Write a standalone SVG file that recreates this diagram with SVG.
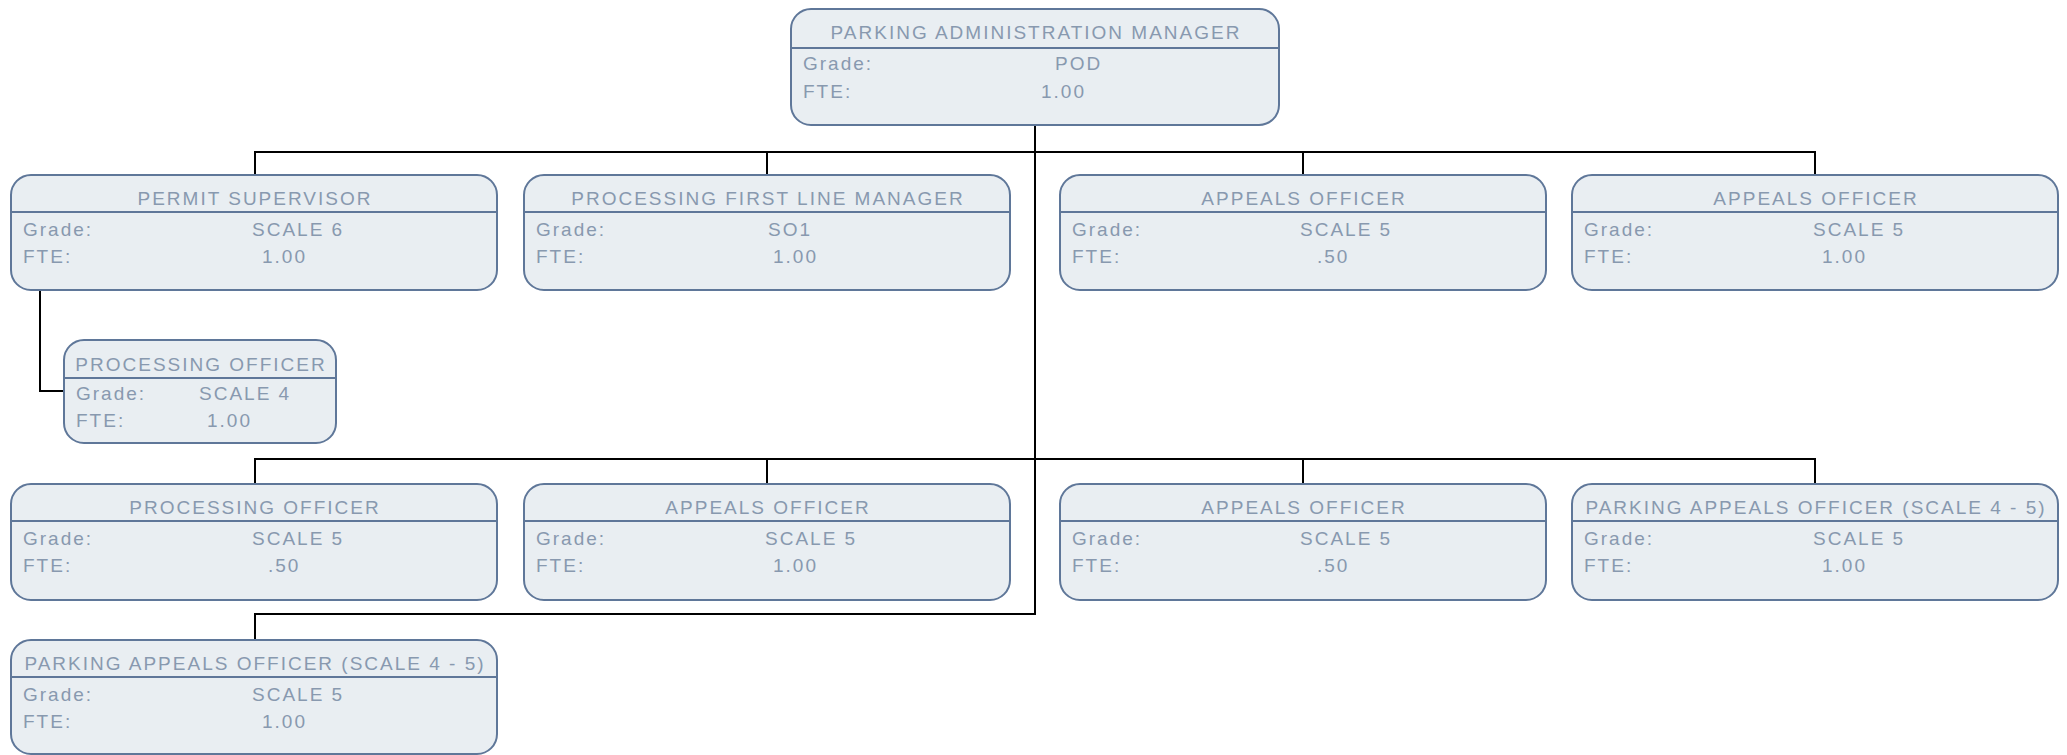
<svg xmlns="http://www.w3.org/2000/svg" width="2067" height="755" viewBox="0 0 2067 755">
<style>
.box{fill:#e9eef2;stroke:#5f7799;stroke-width:2}
.sep{stroke:#5f7799;stroke-width:2}
text{font-family:"Liberation Sans",Arial,sans-serif;font-size:19px;fill:#8899af;letter-spacing:2px}
.t{text-anchor:middle}
.c line,.c path{stroke:#000;stroke-width:2;fill:none}
</style>
<rect width="2067" height="755" fill="#fff"/>
<g class="c" id="connectors">
<line x1="1035" y1="125" x2="1035" y2="615"/>
<line x1="254" y1="152" x2="1816" y2="152"/>
<line x1="255" y1="152" x2="255" y2="175"/>
<line x1="767" y1="152" x2="767" y2="175"/>
<line x1="1303" y1="152" x2="1303" y2="175"/>
<line x1="1815" y1="152" x2="1815" y2="175"/>
<line x1="254" y1="459" x2="1816" y2="459"/>
<line x1="255" y1="459" x2="255" y2="484"/>
<line x1="767" y1="459" x2="767" y2="484"/>
<line x1="1303" y1="459" x2="1303" y2="484"/>
<line x1="1815" y1="459" x2="1815" y2="484"/>
<path d="M255 640 V614 H1036"/>
<path d="M40 290 V391 H64"/>
</g>
<g id="n0"><rect class="box" x="791" y="9" width="488" height="116" rx="20"/><line class="sep" x1="791" y1="48" x2="1279" y2="48"/><text class="t" x="1036" y="39">PARKING ADMINISTRATION MANAGER</text><text x="803" y="70">Grade:</text><text x="803" y="98">FTE:</text><text x="1055" y="70">POD</text><text x="1041" y="98">1.00</text></g>
<g id="n1"><rect class="box" x="11" y="175" width="486" height="115" rx="20"/><line class="sep" x1="11" y1="212" x2="497" y2="212"/><text class="t" x="255" y="205">PERMIT SUPERVISOR</text><text x="23" y="236">Grade:</text><text x="23" y="263">FTE:</text><text x="252" y="236">SCALE 6</text><text x="262" y="263">1.00</text></g>
<g id="n2"><rect class="box" x="524" y="175" width="486" height="115" rx="20"/><line class="sep" x1="524" y1="212" x2="1010" y2="212"/><text class="t" x="768" y="205">PROCESSING FIRST LINE MANAGER</text><text x="536" y="236">Grade:</text><text x="536" y="263">FTE:</text><text x="768" y="236">SO1</text><text x="773" y="263">1.00</text></g>
<g id="n3"><rect class="box" x="1060" y="175" width="486" height="115" rx="20"/><line class="sep" x1="1060" y1="212" x2="1546" y2="212"/><text class="t" x="1304" y="205">APPEALS OFFICER</text><text x="1072" y="236">Grade:</text><text x="1072" y="263">FTE:</text><text x="1300" y="236">SCALE 5</text><text x="1317" y="263">.50</text></g>
<g id="n4"><rect class="box" x="1572" y="175" width="486" height="115" rx="20"/><line class="sep" x1="1572" y1="212" x2="2058" y2="212"/><text class="t" x="1816" y="205">APPEALS OFFICER</text><text x="1584" y="236">Grade:</text><text x="1584" y="263">FTE:</text><text x="1813" y="236">SCALE 5</text><text x="1822" y="263">1.00</text></g>
<g id="n5"><rect class="box" x="64" y="340" width="272" height="103" rx="20"/><line class="sep" x1="64" y1="378" x2="336" y2="378"/><text class="t" x="201" y="371">PROCESSING OFFICER</text><text x="76" y="400">Grade:</text><text x="76" y="427">FTE:</text><text x="199" y="400">SCALE 4</text><text x="207" y="427">1.00</text></g>
<g id="n6"><rect class="box" x="11" y="484" width="486" height="116" rx="20"/><line class="sep" x1="11" y1="521" x2="497" y2="521"/><text class="t" x="255" y="514">PROCESSING OFFICER</text><text x="23" y="545">Grade:</text><text x="23" y="572">FTE:</text><text x="252" y="545">SCALE 5</text><text x="268" y="572">.50</text></g>
<g id="n7"><rect class="box" x="524" y="484" width="486" height="116" rx="20"/><line class="sep" x1="524" y1="521" x2="1010" y2="521"/><text class="t" x="768" y="514">APPEALS OFFICER</text><text x="536" y="545">Grade:</text><text x="536" y="572">FTE:</text><text x="765" y="545">SCALE 5</text><text x="773" y="572">1.00</text></g>
<g id="n8"><rect class="box" x="1060" y="484" width="486" height="116" rx="20"/><line class="sep" x1="1060" y1="521" x2="1546" y2="521"/><text class="t" x="1304" y="514">APPEALS OFFICER</text><text x="1072" y="545">Grade:</text><text x="1072" y="572">FTE:</text><text x="1300" y="545">SCALE 5</text><text x="1317" y="572">.50</text></g>
<g id="n9"><rect class="box" x="1572" y="484" width="486" height="116" rx="20"/><line class="sep" x1="1572" y1="521" x2="2058" y2="521"/><text class="t" x="1816" y="514">PARKING APPEALS OFFICER (SCALE 4 - 5)</text><text x="1584" y="545">Grade:</text><text x="1584" y="572">FTE:</text><text x="1813" y="545">SCALE 5</text><text x="1822" y="572">1.00</text></g>
<g id="n10"><rect class="box" x="11" y="640" width="486" height="114" rx="20"/><line class="sep" x1="11" y1="677" x2="497" y2="677"/><text class="t" x="255" y="670">PARKING APPEALS OFFICER (SCALE 4 - 5)</text><text x="23" y="701">Grade:</text><text x="23" y="728">FTE:</text><text x="252" y="701">SCALE 5</text><text x="262" y="728">1.00</text></g>
</svg>
